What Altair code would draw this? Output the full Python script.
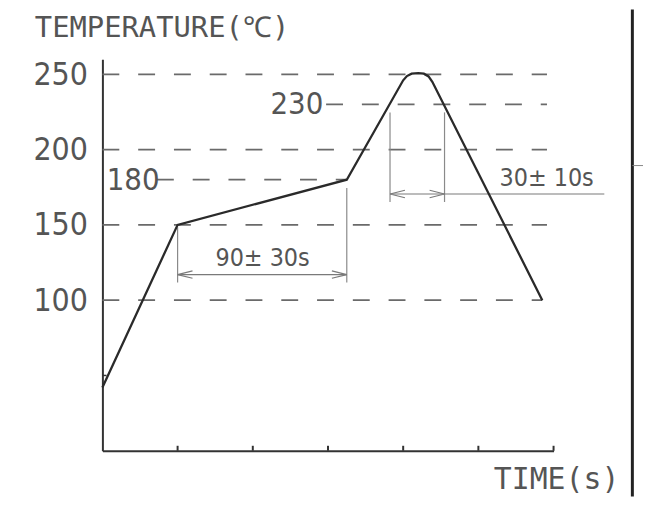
import altair as alt
import pandas as pd

# ---- reflow temperature profile (time in s, temperature in degC) ----
profile_time = [0, 40, 130, 160, 162, 164.5, 168, 171, 173.5, 175.5, 234]
profile_temp = [42, 150, 180, 246, 248.8, 250.4, 250.8, 250.4, 248.6, 245, 100]

# dashed reference levels
ref_temp = [250, 230, 200, 180, 150, 100]
ref_from = [0, 119, 0, 29, 0, 0]
ref_to = [236.5, 236.5, 236.5, 130, 236.5, 234]

# y tick labels
y_labels = [100, 150, 200, 250]

# level labels drawn inside the plot
level_text = ["180", "230"]
level_time = [2.3, 89.4]
level_temp = [180, 230]

# duration annotations
dur_text = ["90± 30s", "30± 10s"]
dur_time = [85.2, 236.3]
dur_temp = [128.2, 181.4]

# extension (witness) lines for durations
guide_time = [40, 130, 153, 182]
guide_top = [148.5, 174.5, 224.7, 224.7]
guide_bottom = [111.7, 111.7, 165.2, 165.2]

# dimension lines
dim_from = [40, 153]
dim_to = [130, 267]
dim_temp = [117, 170.5]

# arrow heads
arrow_time = [40, 130, 153, 182]
arrow_temp = [117, 117, 170.5, 170.5]
arrow_dir = ["left", "right", "left", "right"]

# axis ticks (drawn inward)
x_ticks = [40, 80, 120, 160, 200, 240]
y_minor = [50]

NARROW = "'DejaVu Sans Condensed', 'Liberation Sans Narrow', sans-serif"
MONO = "'DejaVu Sans Mono', 'Liberation Mono', monospace"

xs = alt.Scale(domain=[0, 240], nice=False, zero=False)
ys = alt.Scale(domain=[0, 260], nice=False, zero=False)

profile = pd.DataFrame({"t": profile_time, "T": profile_temp})
refs = pd.DataFrame({"T": ref_temp, "a": ref_from, "b": ref_to})
levels = pd.DataFrame({"txt": level_text, "t": level_time, "T": level_temp})
durs = pd.DataFrame({"txt": dur_text, "t": dur_time, "T": dur_temp})
guides = pd.DataFrame({"t": guide_time, "a": guide_top, "b": guide_bottom})
dims = pd.DataFrame({"a": dim_from, "b": dim_to, "T": dim_temp})
arrows = pd.DataFrame({"t": arrow_time, "T": arrow_temp, "dir": arrow_dir})
xt = pd.DataFrame({"t": x_ticks, "a": [0] * len(x_ticks), "b": [3.3] * len(x_ticks)})
yt = pd.DataFrame({"T": y_minor, "a": [0] * len(y_minor), "b": [2.2] * len(y_minor)})
one = pd.DataFrame({"k": [0]})

base_x = alt.X("t:Q", scale=xs,
               axis=alt.Axis(labels=False, ticks=False, grid=False, title=None,
                             domainColor="#333", domainWidth=2))
base_y = alt.Y("T:Q", scale=ys,
               axis=alt.Axis(values=y_labels, ticks=False, grid=False, title=None,
                             labelFont=NARROW, labelFontSize=32, labelColor="#555",
                             labelPadding=15, domainColor="#333", domainWidth=2))

ref_layer = alt.Chart(refs).mark_rule(color="#6a6a6a", strokeWidth=1.8, strokeDash=[17, 19]).encode(
    x=alt.X("a:Q", scale=xs), x2="b:Q", y=alt.Y("T:Q", scale=ys))

curve = alt.Chart(profile).mark_line(color="#2a2a2a", strokeWidth=2.3).encode(
    x=base_x, y=base_y, order="t:Q")

guide_layer = alt.Chart(guides).mark_rule(color="#8a8a8a", strokeWidth=1.2).encode(
    x=alt.X("t:Q", scale=xs), y=alt.Y("a:Q", scale=ys), y2="b:Q")

dim_layer = alt.Chart(dims).mark_rule(color="#7a7a7a", strokeWidth=1.2).encode(
    x=alt.X("a:Q", scale=xs), x2="b:Q", y=alt.Y("T:Q", scale=ys))

path_left = "M0,0L2,-0.5M0,0L2,0.5"
path_right = "M0,0L-2,-0.5M0,0L-2,0.5"
arrow_layer = alt.Chart(arrows).mark_point(filled=False, color="#7a7a7a", strokeWidth=1.2,
                                           size=225, opacity=1).encode(
    x=alt.X("t:Q", scale=xs), y=alt.Y("T:Q", scale=ys),
    shape=alt.Shape("dir:N", scale=alt.Scale(domain=["left", "right"],
                                             range=[path_left, path_right]), legend=None))

xtick_layer = alt.Chart(xt).mark_rule(color="#333", strokeWidth=2).encode(
    x=alt.X("t:Q", scale=xs), y=alt.Y("a:Q", scale=ys), y2="b:Q")
ytick_layer = alt.Chart(yt).mark_rule(color="#333", strokeWidth=1.5).encode(
    y=alt.Y("T:Q", scale=ys), x=alt.X("a:Q", scale=xs), x2="b:Q")

level_layer = alt.Chart(levels).mark_text(font=NARROW, fontSize=31, color="#555",
                                          align="left", baseline="middle", dy=1).encode(
    x=alt.X("t:Q", scale=xs), y=alt.Y("T:Q", scale=ys), text="txt:N")

dur_layer = alt.Chart(durs).mark_text(font=NARROW, fontSize=25, color="#555",
                                      align="center", baseline="middle").encode(
    x=alt.X("t:Q", scale=xs), y=alt.Y("T:Q", scale=ys), text="txt:N")

ytitle = alt.Chart(one).mark_text(text="TEMPERATURE(℃)", font=MONO, fontSize=29, color="#555",
                                  align="left", baseline="alphabetic").encode(
    x=alt.value(-68), y=alt.value(-22))
xtitle = alt.Chart(one).mark_text(text="TIME(s)", font=MONO, fontSize=30, color="#555",
                                  align="center", baseline="alphabetic").encode(
    x=alt.value(457), y=alt.value(432))

border = alt.Chart(one).mark_rule(color="#222", strokeWidth=3).encode(
    x=alt.value(533.3), y=alt.value(-50), y2=alt.value(440))
border_tick = alt.Chart(one).mark_rule(color="#888", strokeWidth=1).encode(
    x=alt.value(533.3), x2=alt.value(560), y=alt.value(107))

chart = alt.layer(
    ref_layer, guide_layer, dim_layer, arrow_layer, xtick_layer, ytick_layer,
    curve, level_layer, dur_layer, ytitle, xtitle, border, border_tick
).properties(
    width=454, height=394,
    autosize=alt.AutoSizeParams(type="none"),
    padding={"left": 95, "top": 50, "right": 90, "bottom": 46},
    background="white"
).configure_view(stroke=None)

chart.save("out.html", embed_options={"renderer": "svg", "actions": False})
